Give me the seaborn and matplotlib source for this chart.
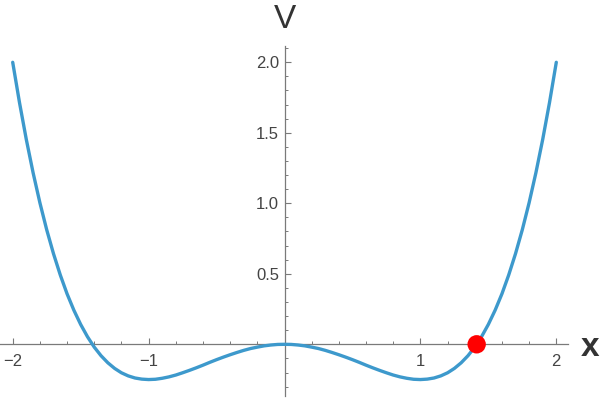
import matplotlib
matplotlib.use("Agg")
import matplotlib.pyplot as plt
import seaborn as sns
import pandas as pd

# Curve V(x)
x_vals = [-2.0, -1.95, -1.9, -1.85, -1.8, -1.75, -1.7, -1.65, -1.6, -1.55,
          -1.5, -1.45, -1.4, -1.35, -1.3, -1.25, -1.2, -1.15, -1.1, -1.05,
          -1.0, -0.95, -0.9, -0.85, -0.8, -0.75, -0.7, -0.65, -0.6, -0.55,
          -0.5, -0.45, -0.4, -0.35, -0.3, -0.25, -0.2, -0.15, -0.1, -0.05,
          0.0, 0.05, 0.1, 0.15, 0.2, 0.25, 0.3, 0.35, 0.4, 0.45,
          0.5, 0.55, 0.6, 0.65, 0.7, 0.75, 0.8, 0.85, 0.9, 0.95,
          1.0, 1.05, 1.1, 1.15, 1.2, 1.25, 1.3, 1.35, 1.4, 1.45,
          1.5, 1.55, 1.6, 1.65, 1.7, 1.75, 1.8, 1.85, 1.9, 1.95, 2.0]
v_vals = [2.0, 1.714, 1.453, 1.217, 1.004, 0.813, 0.643, 0.492, 0.358, 0.242,
          0.141, 0.054, -0.020, -0.081, -0.131, -0.171, -0.202, -0.224, -0.239, -0.247,
          -0.25, -0.248, -0.241, -0.231, -0.218, -0.202, -0.185, -0.167, -0.148, -0.128,
          -0.109, -0.091, -0.074, -0.058, -0.043, -0.030, -0.020, -0.011, -0.005, -0.001,
          0.0, -0.001, -0.005, -0.011, -0.020, -0.030, -0.043, -0.058, -0.074, -0.091,
          -0.109, -0.128, -0.148, -0.167, -0.185, -0.202, -0.218, -0.231, -0.241, -0.248,
          -0.25, -0.247, -0.239, -0.224, -0.202, -0.171, -0.131, -0.081, -0.020, 0.054,
          0.141, 0.242, 0.358, 0.492, 0.643, 0.813, 1.004, 1.217, 1.453, 1.714, 2.0]

# Highlighted point
point_x = [1.414]
point_v = [0.0]

x_ticks = [-2, -1, 1, 2]
x_tick_labels = ["\u22122", "\u22121", "1", "2"]
y_ticks = [0.5, 1.0, 1.5, 2.0]
y_tick_labels = ["0.5", "1.0", "1.5", "2.0"]

sns.set_style("white")
plt.rcParams['font.family'] = ['Liberation Sans', 'DejaVu Sans']

curve = pd.DataFrame({"x": x_vals, "V": v_vals})
pt = pd.DataFrame({"x": point_x, "V": point_v})

fig = plt.figure(figsize=(6.0, 4.01), dpi=100)
ax = fig.add_axes([0, 0, 1, 1])
ax.set_facecolor("white")

sns.lineplot(data=curve, x="x", y="V", ax=ax, color="#3D99CC", linewidth=2.4,
             sort=False, zorder=3)
sns.scatterplot(data=pt, x="x", y="V", ax=ax, color="#FF0000", s=175,
                edgecolor="none", zorder=4)

ax.set_xlim(-2.0935, 2.3216)
ax.set_ylim(-0.4021, 2.4418)

axis_col = "#7a7a7a"
ax.spines['left'].set_position(('data', 0))
ax.spines['bottom'].set_position(('data', 0))
ax.spines['right'].set_visible(False)
ax.spines['top'].set_visible(False)
ax.spines['left'].set_bounds(-0.367, 2.116)
ax.spines['bottom'].set_bounds(-2.093, 2.086)
for s in ('left', 'bottom'):
    ax.spines[s].set_color(axis_col)
    ax.spines[s].set_linewidth(0.9)

ax.set_xticks(x_ticks)
ax.set_xticklabels(x_tick_labels)
ax.set_yticks(y_ticks)
ax.set_yticklabels(y_tick_labels)
ax.set_xticks([v / 5 for v in range(-10, 11) if v % 5 != 0 and v != 0], minor=True)
ax.set_yticks([v / 10 for v in range(-3, 22) if v % 5 != 0], minor=True)

ax.tick_params(which='both', bottom=True, left=True, top=False, right=False)
ax.tick_params(axis='x', which='major', direction='in', length=4.5, width=0.8,
               color=axis_col, labelsize=12, labelcolor="#444444", pad=7)
ax.tick_params(axis='x', which='minor', direction='in', length=2.5, width=0.7,
               color=axis_col)
ax.tick_params(axis='y', which='major', direction='in', length=4.5, width=0.8,
               color=axis_col, labelsize=12, labelcolor="#444444", pad=4)
ax.tick_params(axis='y', which='minor', direction='in', length=2.5, width=0.7,
               color=axis_col)
for lab in ax.get_yticklabels():
    lab.set_horizontalalignment('right')

ax.set_xlabel("")
ax.set_ylabel("")
ax.text(285, 401 - 19, "V", transform=None, fontsize=24, color="#333333",
        ha="center", va="center")
ax.text(590, 401 - 347, "x", transform=None, fontsize=24, fontweight="bold",
        color="#333333", ha="center", va="center")

fig.savefig("out.png", dpi=100)
